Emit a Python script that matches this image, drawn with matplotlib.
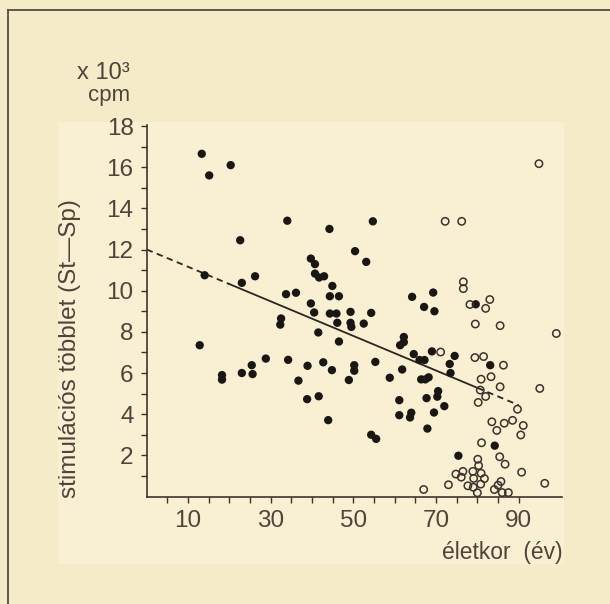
import matplotlib.pyplot as plt
from matplotlib.patches import Rectangle
from matplotlib.lines import Line2D

plt.rcParams['font.family'] = ['Liberation Sans', 'DejaVu Sans']

# ---------------------------------------
# data
# ---------------------------------------

# filled dots: (age, extra stimulation x10^3 cpm)
filled_age = [13.3, 15.1, 20.3, 34.0, 54.7, 44.2, 22.6, 50.4, 53.1, 39.7,
              40.7, 40.7, 41.7, 42.9, 14.0, 26.2, 23.0, 44.9, 33.7, 36.1,
              44.3, 46.5, 64.2, 69.3, 39.7, 40.5, 44.3, 45.9, 49.3, 54.3,
              67.1, 69.6, 79.6, 32.5, 32.3, 46.1, 49.3, 49.5, 52.5, 41.5,
              46.5, 62.2, 62.2, 61.3, 12.8, 69.0, 74.5, 73.3, 73.5, 64.6,
              66.0, 67.2, 83.1, 28.8, 34.2, 42.7, 38.9, 44.8, 50.2, 50.2,
              55.3, 23.0, 25.4, 25.6, 18.2, 18.2, 36.7, 48.9, 58.8, 61.8,
              66.4, 67.4, 68.2, 38.8, 41.6, 43.9, 61.1, 61.1, 63.7, 64.0,
              67.7, 70.5, 70.3, 69.5, 72.0, 67.9, 54.3, 55.5, 75.4, 84.2]
filled_val = [16.65, 15.6, 16.1, 13.4, 13.37, 13.0, 12.45, 11.92, 11.4, 11.56,
              11.29, 10.83, 10.64, 10.7, 10.75, 10.7, 10.38, 10.23, 9.83, 9.9,
              9.73, 9.73, 9.7, 9.91, 9.38, 8.94, 8.89, 8.89, 8.97, 8.92,
              9.21, 9.0, 9.34, 8.65, 8.35, 8.44, 8.44, 8.24, 8.4, 7.97,
              7.53, 7.75, 7.5, 7.35, 7.35, 7.05, 6.83, 6.44, 6.0, 6.92,
              6.63, 6.63, 6.38, 6.7, 6.64, 6.52, 6.35, 6.14, 6.38, 6.11,
              6.54, 6.0, 6.38, 5.95, 5.9, 5.68, 5.63, 5.66, 5.77, 6.17,
              5.69, 5.69, 5.79, 4.73, 4.87, 3.71, 4.68, 3.95, 3.84, 4.07,
              4.78, 5.12, 4.85, 4.08, 4.39, 3.3, 3.0, 2.8, 1.98, 2.47]

# open circles
open_age = [94.9, 72.2, 76.2, 76.6, 76.6, 78.2, 83.0, 82.0, 99.1, 86.3,
            85.5, 79.5, 71.1, 79.4, 81.5, 80.9, 83.3, 85.5, 95.1, 80.7,
            82.0, 80.2, 89.7, 83.5, 86.5, 88.5, 84.7, 91.1, 90.5, 81.0,
            85.4, 86.7, 90.7, 96.3, 73.0, 67.0, 74.8, 76.1, 76.5, 77.7,
            78.9, 79.1, 79.0, 80.0, 80.1, 80.3, 80.9, 81.7, 80.8, 84.1,
            85.0, 85.7, 86.0, 87.5]
open_val = [16.17, 13.37, 13.37, 10.43, 10.1, 9.33, 9.57, 9.14, 7.92, 6.38,
            8.3, 8.38, 7.02, 6.75, 6.8, 5.7, 5.82, 5.33, 5.25, 5.17,
            4.86, 4.57, 4.24, 3.63, 3.56, 3.7, 3.21, 3.45, 2.99, 2.61,
            1.93, 1.57, 1.18, 0.64, 0.57, 0.34, 1.09, 0.94, 1.22, 0.52,
            1.22, 0.88, 0.45, 0.18, 1.81, 1.5, 1.13, 0.87, 0.6, 0.34,
            0.55, 0.73, 0.19, 0.19]

# regression line, dashed outside the 20-80 range
fit_intercept = 12.0
fit_slope = -0.084
dash_left = [0, 20]
solid_part = [20, 80]
dash_right = [80, 90]

xtick_pos = list(range(5, 95, 5))
xtick_lab = ['' if v % 20 != 10 else str(v) for v in xtick_pos]
ytick_pos = list(range(1, 19))
ytick_lab = [str(v) if v % 2 == 0 else '' for v in ytick_pos]

# ---------------------------------------
# figure
# ---------------------------------------
bg = '#f6ebc8'
ink = '#1a1613'
txt = '#4d443a'

fig = plt.figure(figsize=(6.1, 6.04), dpi=100, facecolor=bg)
W, H = 610, 604

# lighter paper patch behind the plot and the page frame
fig.patches.append(Rectangle((58 / W, 1 - 564 / H), (564 - 58) / W, (564 - 122) / H,
                             transform=fig.transFigure, facecolor='#f9f0d3',
                             edgecolor='none', zorder=-10))
fig.add_artist(Line2D([8 / W, 8 / W], [0, 1 - 10 / H], color='#5e574c', lw=1.4))
fig.add_artist(Line2D([8 / W, 1], [1 - 10 / H, 1 - 10 / H], color='#5e574c', lw=1.4))

ax = fig.add_axes([146.8 / W, 1 - 496.5 / H, 415.3 / W, 371.5 / H])
ax.set_zorder(5)
ax.set_facecolor('none')

ax.scatter(filled_age, filled_val, s=36, color=ink, edgecolors='none', zorder=3)
ax.scatter(open_age, open_val, s=28, facecolors='none', edgecolors='#3a332b',
           linewidths=1.1, zorder=3)

for seg, ls in [(dash_left, (0, (3.5, 2.5))), (solid_part, '-'), (dash_right, (0, (3.5, 2.5)))]:
    ys = [fit_intercept + fit_slope * x for x in seg]
    ax.plot(seg, ys, color='#2b2620', lw=1.3, linestyle=ls, zorder=2)

ax.set_xlim(0, 100.5)
ax.set_ylim(0, 18.05)
ax.spines['top'].set_visible(False)
ax.spines['right'].set_visible(False)
for s in ['left', 'bottom']:
    ax.spines[s].set_color('#3b352e')
    ax.spines[s].set_linewidth(1.2)

ax.set_xticks(xtick_pos)
ax.set_xticklabels(xtick_lab)
ax.set_yticks(ytick_pos)
ax.set_yticklabels(ytick_lab)
ax.tick_params(direction='out', length=4.5, width=1.0, color='#3b352e',
               labelcolor=txt, labelsize=17.5)
ax.tick_params(axis='x', pad=5)
ax.tick_params(axis='y', pad=5)

fig.text(70 / W, 1 - 348.5 / H, 'stimulációs többlet (St—Sp)', rotation=90,
         ha='center', va='center', fontsize=17.5, color=txt)
fig.text(563 / W, 1 - 553 / H, 'életkor  (év)', ha='right', va='center',
         fontsize=16.5, color=txt)
fig.text(130 / W, 1 - 73 / H, 'x 10³', ha='right', va='center',
         fontsize=17, color=txt)
fig.text(130 / W, 1 - 96 / H, 'cpm', ha='right', va='center',
         fontsize=16, color=txt)

fig.savefig('out.png', dpi=100, facecolor=bg)
